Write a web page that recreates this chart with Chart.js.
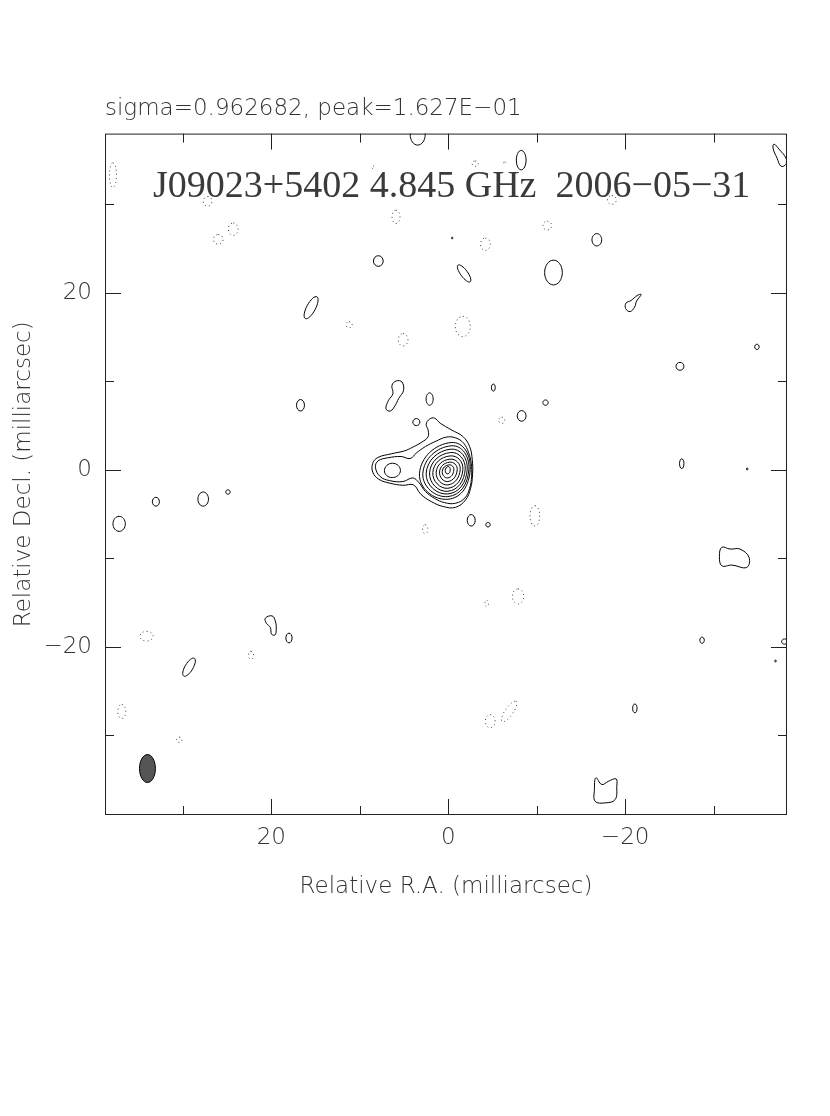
<!DOCTYPE html>
<html lang="en">
<head>
<meta charset="UTF-8">
<title>J09023+5402 4.845 GHz 2006-05-31</title>
<script src="https://cdn.jsdelivr.net/npm/chart.js"></script>
<style>
  html, body { margin: 0; padding: 0; background: #fff; }
  canvas { display: block; }
</style>
</head>
<body>
<canvas id="map" width="830" height="1116"></canvas>
<script>
// tick labels (milliarcsec)
const xTickLabels = [20, 0, -20];
const yTickLabels = [20, 0, -20];

// core + western component, outer to inner. points are [RA, Dec] in mas
const coreContours = [
  [[1.55,5.85],[0.91,5.28],[-0.34,4.53],[-1.66,3.77],[-2.42,2.64],[-2.72,1.13],[-2.75,-0.57],[-2.53,-2.08],[-1.96,-3.40],[-0.83,-4.23],[0.53,-4.15],[1.92,-3.58],[3.13,-2.72],[3.92,-1.70],[5.13,-1.74],[6.57,-1.51],[7.85,-1.06],[8.53,-0.26],[8.53,0.75],[7.96,1.40],[6.45,1.81],[4.94,2.15],[4.00,2.57],[3.06,3.09],[2.30,3.70],[2.26,4.45],[2.49,5.17],[2.11,5.74]],
  [[8.23,0.30],[7.92,1.02],[6.83,1.36],[5.32,1.51],[4.30,1.28],[3.62,1.89],[2.57,2.64],[1.36,3.25],[0.23,3.70],[-0.83,3.62],[-1.74,3.02],[-2.30,1.96],[-2.60,0.75],[-2.64,-0.75],[-2.42,-2.08],[-1.89,-3.17],[-0.83,-3.77],[0.42,-3.70],[1.55,-3.21],[2.57,-2.45],[3.32,-1.43],[4.00,-0.91],[5.13,-1.32],[6.64,-1.21],[7.70,-0.75]],
  [[6.30,0.75],[5.40,-0.08],[6.34,-0.87],[7.21,-0.08]],
  [[-0.34,3.09],[-2.49,0.08],[0.04,-3.32],[3.25,-0.45]],
  [[-0.34,2.72],[-2.34,0.08],[0.04,-3.02],[2.87,-0.42]],
  [[-0.30,2.34],[-2.15,0.08],[0.04,-2.72],[2.49,-0.38]],
  [[-0.26,1.96],[-1.92,0.08],[0.04,-2.42],[2.11,-0.34]],
  [[-0.23,1.58],[-1.66,0.04],[0.04,-2.08],[1.74,-0.30]],
  [[-0.19,1.21],[-1.36,0.04],[0.04,-1.70],[1.36,-0.26]],
  [[-0.15,0.87],[-1.02,0.00],[0.04,-1.32],[0.98,-0.23]],
  [[-0.08,0.57],[-0.64,0.00],[0.04,-0.91],[0.68,-0.19]],
  [[0.00,0.38],[-0.23,0.00],[0.04,-0.45],[0.34,-0.08]]
];

// isolated positive contours
const positiveContours = [
  [[3.45,39.1],[2.6,37.9],[3.45,36.7],[4.3,37.9]],
  [[7.9,24.2],[7.35,23.6],[7.9,23.0],[8.45,23.6]],
  [[14.84,19.56],[15.06,18.09],[16.16,17.1],[15.94,18.57]],
  [[16.7,7.95],[16.25,7.3],[16.7,6.65],[17.15,7.3]],
  [[5.23,9.93],[5.05,8.98],[5.62,8.04],[5.99,7.28],[6.55,6.65],[7.04,6.91],[6.75,7.85],[6.25,8.61],[6.36,9.55],[5.88,10.05]],
  [[2.1,8.7],[1.7,8.0],[2.1,7.3],[2.5,8.0]],
  [[3.6,5.8],[3.2,5.4],[3.6,5.0],[4.0,5.4]],
  [[-8.25,36.1],[-8.8,35.0],[-8.25,33.9],[-7.7,35.0]],
  [[-36.84,36.81],[-37.4,36.24],[-38.19,35.22],[-38.19,34.54],[-37.63,34.31],[-37.18,35.22],[-36.72,36.35]],
  [[-16.8,26.7],[-17.35,26.0],[-16.8,25.3],[-16.25,26.0]],
  [[-11.9,23.7],[-12.9,22.3],[-11.9,20.9],[-10.9,22.3]],
  [[-1.1,23.14],[-2.12,22.44],[-2.49,21.26],[-1.48,21.96]],
  [[-21.81,19.82],[-21.3,19.08],[-21.07,18.4],[-20.56,17.89],[-20.06,18.23],[-20.11,18.86],[-20.68,19.14],[-21.36,19.71]],
  [[-34.9,14.2],[-35.15,13.9],[-34.9,13.6],[-34.65,13.9]],
  [[-26.2,12.15],[-26.65,11.7],[-26.2,11.25],[-25.75,11.7]],
  [[-5.1,9.7],[-5.32,9.3],[-5.1,8.9],[-4.88,9.3]],
  [[-11.0,7.9],[-11.3,7.6],[-11.0,7.3],[-10.7,7.6]],
  [[-8.3,6.7],[-8.8,6.1],[-8.3,5.5],[-7.8,6.1]],
  [[-26.4,1.25],[-26.65,0.7],[-26.4,0.15],[-26.15,0.7]],
  [[-33.8,0.2],[-33.9,0.1],[-33.8,0.0],[-33.7,0.1]],
  [[-0.45,26.3],[-0.53,26.2],[-0.45,26.1],[-0.37,26.2]],
  [[33.05,-3.1],[32.65,-3.6],[33.05,-4.1],[33.45,-3.6]],
  [[27.7,-2.5],[27.1,-3.3],[27.7,-4.1],[28.3,-3.3]],
  [[24.9,-2.25],[24.65,-2.5],[24.9,-2.75],[25.15,-2.5]],
  [[37.2,-5.25],[36.5,-6.1],[37.2,-6.95],[37.9,-6.1]],
  [[20.68,-16.76],[19.92,-16.5],[19.55,-17.07],[19.44,-18.0],[19.58,-18.65],[19.97,-18.57],[20.11,-17.81],[20.56,-17.33]],
  [[18.0,-18.45],[17.65,-19.0],[18.0,-19.55],[18.35,-19.0]],
  [[28.7,-21.29],[28.91,-22.53],[29.9,-23.3],[29.69,-22.07]],
  [[-2.6,-5.05],[-3.05,-5.7],[-2.6,-6.35],[-2.15,-5.7]],
  [[-4.5,-5.95],[-4.75,-6.2],[-4.5,-6.45],[-4.25,-6.2]],
  [[-30.93,-8.75],[-31.86,-8.95],[-32.99,-8.95],[-34.01,-9.89],[-33.75,-11.02],[-32.06,-10.76],[-30.93,-10.84],[-30.66,-9.77]],
  [[-28.7,-18.9],[-28.95,-19.25],[-28.7,-19.6],[-28.45,-19.25]],
  [[-38.0,-19.1],[-38.3,-19.4],[-38.0,-19.7],[-37.7,-19.4]],
  [[-37.0,-21.5],[-37.1,-21.6],[-37.0,-21.7],[-36.9,-21.6]],
  [[-21.1,-26.45],[-21.35,-26.95],[-21.1,-27.45],[-20.85,-26.95]],
  [[-16.69,-34.8],[-17.37,-35.56],[-18.11,-35.19],[-18.98,-34.92],[-19.06,-35.75],[-18.87,-37.26],[-17.74,-37.63],[-16.61,-37.45],[-16.53,-36.13]]
];

// negative contours (dotted)
const negativeContours = [
  [[37.9,34.7],[37.5,33.3],[37.9,31.9],[38.3,33.3]],
  [[27.2,30.9],[26.7,30.35],[27.2,29.8],[27.7,30.35]],
  [[26.0,26.6],[25.45,26.05],[26.0,25.5],[26.55,26.05]],
  [[24.3,27.9],[23.75,27.2],[24.3,26.5],[24.85,27.2]],
  [[8.5,34.35],[8.35,34.2],[8.5,34.05],[8.65,34.2]],
  [[5.9,29.35],[5.45,28.6],[5.9,27.85],[6.35,28.6]],
  [[11.2,16.75],[10.85,16.4],[11.2,16.05],[11.55,16.4]],
  [[5.1,15.4],[4.55,14.7],[5.1,14.0],[5.65,14.7]],
  [[-3.05,34.9],[-3.4,34.6],[-3.05,34.3],[-2.7,34.6]],
  [[-6.4,34.82],[-6.52,34.7],[-6.4,34.58],[-6.28,34.7]],
  [[-18.5,31.0],[-19.0,30.5],[-18.5,30.0],[-18.0,30.5]],
  [[-11.2,28.1],[-11.7,27.6],[-11.2,27.1],[-10.7,27.6]],
  [[-4.2,26.2],[-4.75,25.5],[-4.2,24.8],[-3.65,25.5]],
  [[-1.65,17.35],[-2.5,16.2],[-1.65,15.05],[-0.8,16.2]],
  [[-6.05,5.95],[-6.4,5.6],[-6.05,5.25],[-5.7,5.6]],
  [[34.1,-18.25],[33.35,-18.8],[34.1,-19.35],[34.85,-18.8]],
  [[22.3,-20.5],[22.0,-20.95],[22.3,-21.4],[22.6,-20.95]],
  [[36.9,-26.5],[36.45,-27.3],[36.9,-28.1],[37.35,-27.3]],
  [[30.4,-30.2],[30.1,-30.5],[30.4,-30.8],[30.7,-30.5]],
  [[2.6,-6.2],[2.3,-6.7],[2.6,-7.2],[2.9,-6.7]],
  [[-9.8,-4.05],[-10.35,-5.2],[-9.8,-6.35],[-9.25,-5.2]],
  [[-7.9,-13.45],[-8.55,-14.3],[-7.9,-15.15],[-7.25,-14.3]],
  [[-4.35,-14.75],[-4.55,-15.1],[-4.35,-15.45],[-4.15,-15.1]],
  [[-4.75,-27.65],[-5.3,-28.4],[-4.75,-29.15],[-4.2,-28.4]],
  [[-7.68,-26.16],[-7.26,-27.56],[-6.1,-28.43],[-6.52,-27.04]]
];

// restoring beam, bottom-left corner
const beam = [[34.0,-32.17],[33.1,-33.75],[34.0,-35.33],[34.9,-33.75]];

const sans = '"DejaVu Sans", "Liberation Sans", sans-serif';
const textColor = '#333';
const minus = v => v < 0 ? '\u2212' + (-v) : String(v);

function contour(points, dotted) {
  return {
    data: points,
    showLine: true,
    spanGaps: true,
    pointRadius: 0,
    borderColor: dotted ? '#444' : '#000',
    borderWidth: 1,
    borderDash: dotted ? [1, 3] : [],
    tension: points.length > 5 ? 0.4 : 0.55,
    clip: 0
  };
}

const datasets = [
  ...coreContours.map(c => contour(c, false)),
  ...positiveContours.map(c => contour(c, false)),
  ...negativeContours.map(c => contour(c, true)),
  Object.assign(contour(beam, false), { fill: 'shape', backgroundColor: '#555' })
];

// contours are closed curves: make every line element loop back to its first point
const closeContours = {
  id: 'closeContours',
  afterDatasetsUpdate(chart) {
    chart.data.datasets.forEach((ds, i) => {
      const line = chart.getDatasetMeta(i).dataset;
      if (!line) return;
      line._loop = true;
      delete line._segments;
      delete line._path;
      line._pointsUpdated = false;
    });
  }
};

// box around the map, inward ticks on all four sides, and the source label
const frame = {
  id: 'frame',
  afterDatasetsDraw(chart) {
    const { ctx, chartArea: a, scales: { x, y } } = chart;
    ctx.save();
    ctx.strokeStyle = '#222';
    ctx.lineWidth = 1;
    ctx.strokeRect(a.left + 0.5, a.top + 0.5, a.right - a.left - 1, a.bottom - a.top - 1);
    ctx.beginPath();
    x.ticks.forEach(t => {
      const p = Math.round(x.getPixelForValue(t.value)) + 0.5;
      const len = xTickLabels.includes(t.value) ? 16 : 9;
      ctx.moveTo(p, a.bottom); ctx.lineTo(p, a.bottom - len);
      ctx.moveTo(p, a.top); ctx.lineTo(p, a.top + len);
    });
    y.ticks.forEach(t => {
      const p = Math.round(y.getPixelForValue(t.value)) + 0.5;
      const len = yTickLabels.includes(t.value) ? 16 : 9;
      ctx.moveTo(a.left, p); ctx.lineTo(a.left + len, p);
      ctx.moveTo(a.right, p); ctx.lineTo(a.right - len, p);
    });
    ctx.stroke();

    ctx.fillStyle = '#3a3a3a';
    ctx.font = '38px "Liberation Serif", "DejaVu Serif", serif';
    ctx.textBaseline = 'alphabetic';
    ctx.fillText('J09023+5402 4.845 GHz  2006\u221205\u221231', a.left + 48, a.top + 63);
    ctx.restore();
  }
};

new Chart(document.getElementById('map'), {
  type: 'scatter',
  data: { datasets },
  options: {
    responsive: false,
    animation: false,
    events: [],
    layout: { padding: { top: 95, right: 43, bottom: 0, left: 2 } },
    plugins: {
      legend: { display: false },
      tooltip: { enabled: false },
      title: {
        display: true,
        fullSize: false,
        align: 'start',
        text: 'sigma=0.962682, peak=1.627E\u221201',
        color: textColor,
        font: { family: sans, size: 23, weight: 200 },
        padding: { top: 0, bottom: 11 }
      }
    },
    scales: {
      x: {
        type: 'linear',
        reverse: true,
        min: -38.3,
        max: 38.8,
        grid: { display: false, drawTicks: false },
        border: { display: false },
        ticks: {
          stepSize: 10,
          includeBounds: false,
          autoSkip: false,
          maxRotation: 0,
          padding: 9,
          color: textColor,
          font: { family: sans, size: 23, weight: 200 },
          callback: v => xTickLabels.includes(v) ? minus(v) : ''
        },
        title: {
          display: true,
          text: 'Relative R.A. (milliarcsec)',
          color: textColor,
          font: { family: sans, size: 23, weight: 200 },
          padding: { top: 0, bottom: 215 }
        },
        afterFit: s => { s.height = 301; }
      },
      y: {
        type: 'linear',
        min: -39.0,
        max: 38.0,
        grid: { display: false, drawTicks: false },
        border: { display: false },
        ticks: {
          stepSize: 10,
          includeBounds: false,
          autoSkip: false,
          padding: 13,
          color: textColor,
          font: { family: sans, size: 23, weight: 200 },
          callback: v => yTickLabels.includes(v) ? minus(v) : ''
        },
        title: {
          display: true,
          text: 'Relative Decl. (milliarcsec)',
          color: textColor,
          font: { family: sans, size: 23, weight: 200 },
          padding: { top: 8, bottom: 0 }
        },
        afterFit: s => { s.width = 103; }
      }
    }
  },
  plugins: [closeContours, frame]
});
</script>
</body>
</html>
